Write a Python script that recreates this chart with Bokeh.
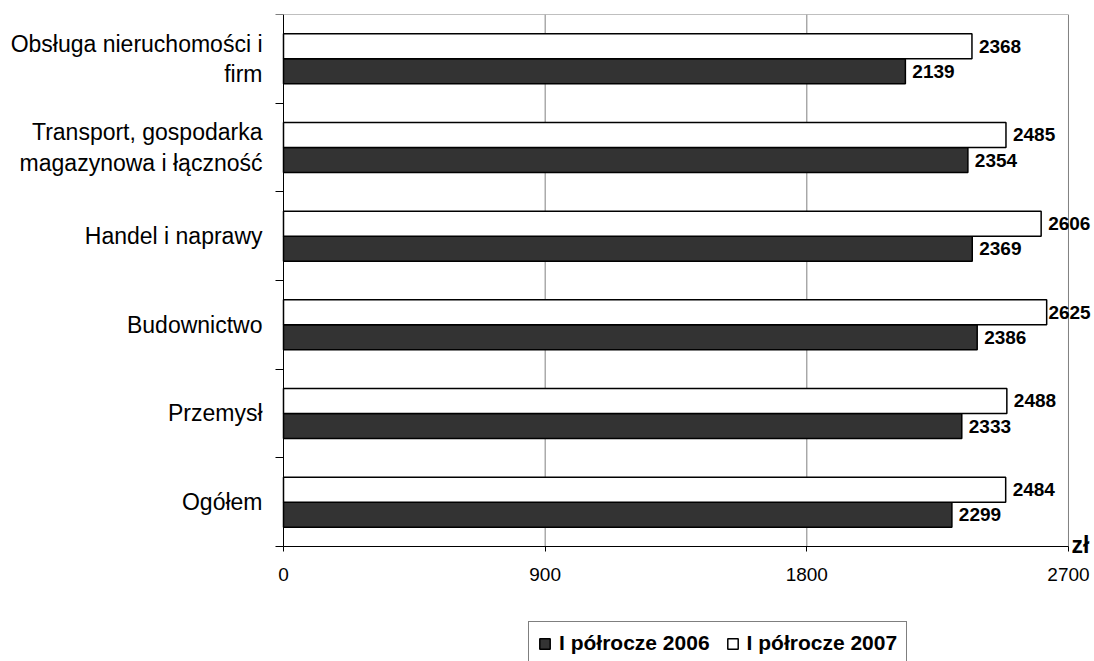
from bokeh.plotting import figure
from bokeh.models import (Range1d, FixedTicker, ColumnDataSource, LabelSet, Label,
                          Legend, LegendItem)
from bokeh.core.properties import value
from bokeh.embed import file_html
from bokeh.resources import INLINE

# ---- data ----
categories = ["Obsługa nieruchomości i\nfirm",
              "Transport, gospodarka\nmagazynowa i łączność",
              "Handel i naprawy",
              "Budownictwo",
              "Przemysł",
              "Ogółem"]
h2006 = [2139, 2354, 2369, 2386, 2333, 2299]
h2007 = [2368, 2485, 2606, 2625, 2488, 2484]
series_names = ["I półrocze 2006", "I półrocze 2007"]
x_ticks = [0, 900, 1800, 2700]
unit_label = "zł"

FONT = "Liberation Sans"
n = len(categories)
centers = [n - i - 0.5 for i in range(n)]
bounds = list(range(n + 1))
bar_h = 0.282
x_max = x_ticks[-1]

# the plotting frame covers the whole canvas; axes are pinned at x=0 / y=0
x_view_start = -973.4
x_view_end = 2789.5
y_view_start = -1.297

# label placement in data units (gap ~7px; kept within the chart like the original)
label_gap = 24
label_max = 2631

p = figure(width=1094, height=661, x_range=Range1d(x_view_start, x_view_end),
           y_range=Range1d(y_view_start, n),
           output_backend="svg", toolbar_location=None,
           min_border_left=0, min_border_right=0, min_border_top=14, min_border_bottom=0)
p.outline_line_color = None
p.background_fill_color = "white"
p.border_fill_color = "white"
p.grid.visible = False

# grid lines and plot-area border (top / right)
grid_src = ColumnDataSource(dict(x0=x_ticks[1:], x1=x_ticks[1:],
                                 y0=[0] * (len(x_ticks) - 1), y1=[n] * (len(x_ticks) - 1)))
p.segment(x0="x0", y0="y0", x1="x1", y1="y1", source=grid_src,
          line_color="#808080", line_width=1, level="underlay")
p.segment(x0=[0], y0=[n], x1=[x_max], y1=[n], line_color="#808080", line_width=1,
          level="underlay")

src06 = ColumnDataSource(dict(y=[c - bar_h / 2 for c in centers], v=h2006,
                              lab=[str(v) for v in h2006],
                              lx=[min(v + label_gap, label_max) for v in h2006]))
src07 = ColumnDataSource(dict(y=[c + bar_h / 2 for c in centers], v=h2007,
                              lab=[str(v) for v in h2007],
                              lx=[min(v + label_gap, label_max) for v in h2007]))

r06 = p.hbar(y="y", left=0, right="v", height=bar_h, source=src06,
             fill_color="#333333", line_color="black", line_width=1.5)
r07 = p.hbar(y="y", left=0, right="v", height=bar_h, source=src07,
             fill_color="white", line_color="black", line_width=1.5)

for src in (src06, src07):
    p.add_layout(LabelSet(x="lx", y="y", text="lab", source=src,
                          text_font=value(FONT), text_font_size="19px",
                          text_font_style="bold",
                          text_baseline="middle", text_align="left", text_color="black"))

# axes
xa = p.xaxis[0]
xa.fixed_location = 0
xa.bounds = (0, x_max)
xa.ticker = FixedTicker(ticks=x_ticks)
xa.major_label_text_font = FONT
xa.major_label_text_font_size = "19px"
xa.major_label_text_color = "black"
xa.major_tick_out = 5
xa.major_tick_in = 0
xa.minor_tick_line_color = None
xa.axis_line_color = "black"
xa.major_tick_line_color = "black"
xa.major_label_standoff = 17

ya = p.yaxis[0]
ya.fixed_location = 0
ya.bounds = (0, n)
ya.ticker = FixedTicker(ticks=centers, minor_ticks=bounds)
ya.major_label_overrides = {c: lab for c, lab in zip(centers, categories)}
ya.major_label_text_font = FONT
ya.major_label_text_font_size = "23px"
ya.major_label_text_line_height = 1.16
ya.major_label_text_color = "black"
ya.major_label_text_align = "center"
ya.major_tick_line_color = None
ya.major_tick_out = 0
ya.major_tick_in = 0
ya.minor_tick_out = 8
ya.minor_tick_in = 0
ya.minor_tick_line_color = "black"
ya.axis_line_color = "black"
ya.major_label_standoff = 13

# unit label
p.add_layout(Label(x=x_max, y=0, x_offset=3, y_offset=1, text=unit_label,
                   text_font=FONT, text_font_size="23px", text_font_style="bold",
                   text_baseline="alphabetic", text_color="black"))

legend = Legend(items=[LegendItem(label=series_names[0], renderers=[r06]),
                       LegendItem(label=series_names[1], renderers=[r07])],
                orientation="horizontal", location=(528, -4),
                label_text_font=FONT, label_text_font_size="21px",
                label_text_font_style="bold",
                label_text_color="black", glyph_width=13, glyph_height=13,
                label_standoff=8, spacing=16, padding=9, margin=0,
                border_line_color="black", border_line_width=1,
                background_fill_color="white")
p.add_layout(legend)

open("out.html", "w").write(file_html(p, INLINE))
